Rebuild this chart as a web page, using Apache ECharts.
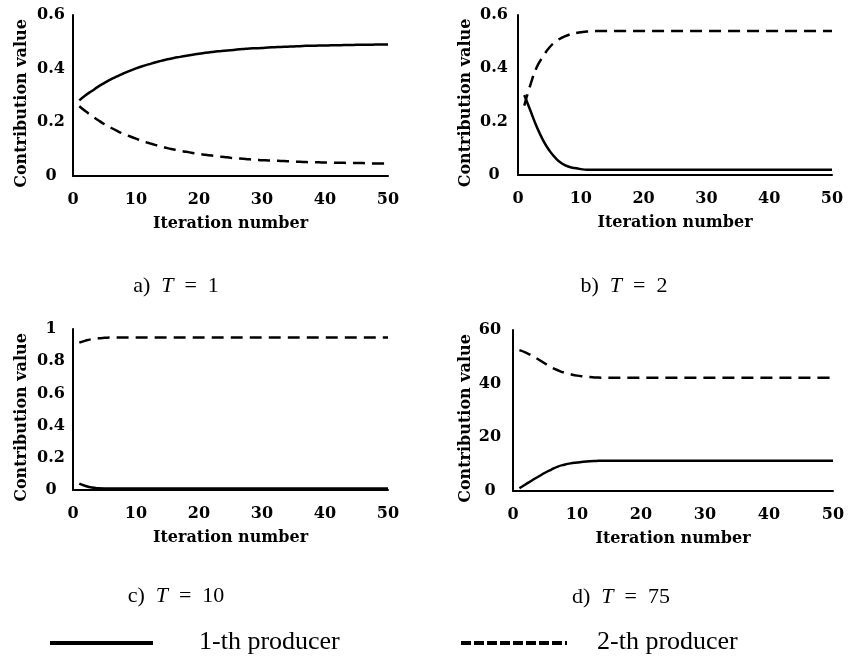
<!DOCTYPE html>
<html>
<head>
<meta charset="utf-8">
<script src="https://cdn.jsdelivr.net/npm/echarts@6/dist/echarts.min.js"></script>
<style>
html,body{margin:0;padding:0;background:#fff;}
#chart{width:848px;height:659px;}
</style>
</head>
<body>
<div id="chart"></div>
<script>
var iterations = [1,2,3,4,5,6,7,8,9,10,11,12,13,14,15,16,17,18,19,20,21,22,23,24,25,26,27,28,29,30,31,32,33,34,35,36,37,38,39,40,41,42,43,44,45,46,47,48,49,50];
var xTicks = [0,10,20,30,40,50];

// a) T = 1
var aProducer1 = [0.282,0.301,0.317,0.333,0.347,0.360,0.371,0.382,0.392,0.401,0.409,0.416,0.423,0.429,0.435,0.440,0.444,0.448,0.452,0.456,0.459,0.462,0.465,0.467,0.469,0.471,0.473,0.475,0.476,0.477,0.479,0.480,0.481,0.482,0.483,0.484,0.485,0.485,0.486,0.486,0.487,0.487,0.488,0.488,0.489,0.489,0.489,0.490,0.490,0.490];
var aProducer2 = [0.260,0.241,0.224,0.208,0.193,0.180,0.168,0.157,0.148,0.139,0.130,0.123,0.116,0.110,0.104,0.099,0.094,0.090,0.086,0.082,0.079,0.076,0.073,0.071,0.068,0.066,0.064,0.062,0.061,0.059,0.058,0.057,0.056,0.055,0.054,0.053,0.052,0.051,0.051,0.050,0.050,0.049,0.049,0.048,0.048,0.048,0.047,0.047,0.047,0.047];
// b) T = 2
var bProducer1 = [0.300,0.240,0.180,0.130,0.092,0.063,0.043,0.032,0.026,0.022,0.020,0.020,0.020,0.020,0.020,0.020,0.020,0.020,0.020,0.020,0.020,0.020,0.020,0.020,0.020,0.020,0.020,0.020,0.020,0.020,0.020,0.020,0.020,0.020,0.020,0.020,0.020,0.020,0.020,0.020,0.020,0.020,0.020,0.020,0.020,0.020,0.020,0.020,0.020,0.020];
var bProducer2 = [0.260,0.340,0.405,0.445,0.478,0.500,0.515,0.525,0.531,0.535,0.538,0.539,0.540,0.540,0.540,0.540,0.540,0.540,0.540,0.540,0.540,0.540,0.540,0.540,0.540,0.540,0.540,0.540,0.540,0.540,0.540,0.540,0.540,0.540,0.540,0.540,0.540,0.540,0.540,0.540,0.540,0.540,0.540,0.540,0.540,0.540,0.540,0.540,0.540,0.540];
// c) T = 10
var cProducer1 = [0.040,0.025,0.015,0.011,0.010,0.010,0.010,0.010,0.010,0.010,0.010,0.010,0.010,0.010,0.010,0.010,0.010,0.010,0.010,0.010,0.010,0.010,0.010,0.010,0.010,0.010,0.010,0.010,0.010,0.010,0.010,0.010,0.010,0.010,0.010,0.010,0.010,0.010,0.010,0.010,0.010,0.010,0.010,0.010,0.010,0.010,0.010,0.010,0.010,0.010];
var cProducer2 = [0.915,0.928,0.937,0.942,0.945,0.947,0.947,0.947,0.947,0.947,0.947,0.947,0.947,0.947,0.947,0.947,0.947,0.947,0.947,0.947,0.947,0.947,0.947,0.947,0.947,0.947,0.947,0.947,0.947,0.947,0.947,0.947,0.947,0.947,0.947,0.947,0.947,0.947,0.947,0.947,0.947,0.947,0.947,0.947,0.947,0.947,0.947,0.947,0.947,0.947];
// d) T = 75
var dProducer1 = [1.0,2.5,4.0,5.4,6.8,8.0,9.1,9.8,10.3,10.6,10.9,11.1,11.2,11.3,11.3,11.3,11.3,11.3,11.3,11.3,11.3,11.3,11.3,11.3,11.3,11.3,11.3,11.3,11.3,11.3,11.3,11.3,11.3,11.3,11.3,11.3,11.3,11.3,11.3,11.3,11.3,11.3,11.3,11.3,11.3,11.3,11.3,11.3,11.3,11.3];
var dProducer2 = [52.5,51.6,50.4,49.0,47.5,46.1,45.0,44.1,43.5,43.0,42.7,42.5,42.3,42.2,42.2,42.2,42.2,42.2,42.2,42.2,42.2,42.2,42.2,42.2,42.2,42.2,42.2,42.2,42.2,42.2,42.2,42.2,42.2,42.2,42.2,42.2,42.2,42.2,42.2,42.2,42.2,42.2,42.2,42.2,42.2,42.2,42.2,42.2,42.2,42.2];

var yMaxes = [0.6, 0.6, 1, 60];
var yIntervals = [0.2, 0.2, 0.2, 20];
var captions = [['a)', '1'], ['b)', '2'], ['c)', '10'], ['d)', '75']];
var seriesNames = ['1-th producer', '2-th producer'];
var xAxisTitle = 'Iteration number';
var yAxisTitle = 'Contribution value';

var panels = [
  {p1: aProducer1, p2: aProducer2},
  {p1: bProducer1, p2: bProducer2},
  {p1: cProducer1, p2: cProducer2},
  {p1: dProducer1, p2: dProducer2}
];

var grids = [
  {left: 73, top: 15, width: 315, height: 161},
  {left: 518, top: 15, width: 314, height: 160},
  {left: 73, top: 329, width: 315, height: 161},
  {left: 513, top: 330, width: 320, height: 161}
];
var yNameGaps = [43, 44, 43, 39];
var yLabelMargins = [22, 24, 22, 23];
var captionPos = [[176, 286], [624, 286], [176, 596], [621, 597]];

var boldFont = 'DejaVu Serif';
var serif = 'Liberation Serif';

function pairs(vals) {
  return iterations.map(function (it, i) { return [it, vals[i]]; });
}

var xAxes = [], yAxes = [], series = [], graphics = [];
grids.forEach(function (g, k) {
  xAxes.push({
    type: 'value', gridIndex: k, min: xTicks[0], max: xTicks[xTicks.length - 1],
    interval: xTicks[1] - xTicks[0],
    name: xAxisTitle, nameLocation: 'middle', nameGap: 40,
    nameTextStyle: {fontFamily: boldFont, fontWeight: 'bold', fontSize: 16, color: '#000'},
    axisLine: {show: true, lineStyle: {color: '#000', width: 2}},
    axisTick: {show: false},
    splitLine: {show: false},
    axisLabel: {fontFamily: boldFont, fontWeight: 'bold', fontSize: 16, color: '#000', margin: 16}
  });
  yAxes.push({
    type: 'value', gridIndex: k, min: 0, max: yMaxes[k], interval: yIntervals[k],
    name: yAxisTitle, nameLocation: 'middle', nameRotate: 90, nameGap: yNameGaps[k],
    nameTextStyle: {fontFamily: boldFont, fontWeight: 'bold', fontSize: 16, color: '#000', padding: [0, 16, 0, 0]},
    axisLine: {show: true, lineStyle: {color: '#000', width: 2}},
    axisTick: {show: false},
    splitLine: {show: false},
    axisLabel: {fontFamily: boldFont, fontWeight: 'bold', fontSize: 16, color: '#000', margin: yLabelMargins[k], align: 'center'}
  });
  series.push({
    name: seriesNames[0], type: 'line', xAxisIndex: k, yAxisIndex: k,
    data: pairs(panels[k].p1), showSymbol: false, symbol: 'none', smooth: true,
    lineStyle: {color: '#000', width: 2.5}
  });
  series.push({
    name: seriesNames[1], type: 'line', xAxisIndex: k, yAxisIndex: k,
    data: pairs(panels[k].p2), showSymbol: false, symbol: 'none', smooth: true,
    lineStyle: {color: '#000', width: 2.5, type: [12, 7]}
  });
  graphics.push({
    type: 'text', x: captionPos[k][0], y: captionPos[k][1],
    style: {
      text: '{n|' + captions[k][0] + '\u2002}{i|T}{n|\u2002=\u2002' + captions[k][1] + '}',
      align: 'center', verticalAlign: 'middle',
      rich: {
        n: {fontFamily: serif, fontSize: 22, fill: '#000'},
        i: {fontFamily: serif, fontSize: 22, fontStyle: 'italic', fill: '#000'}
      }
    }
  });
});

// legend
graphics.push({type: 'line', shape: {x1: 50, y1: 643, x2: 153, y2: 643}, style: {stroke: '#000', lineWidth: 4}});
graphics.push({type: 'text', x: 199, y: 642, style: {text: seriesNames[0], fontFamily: serif, fontSize: 26, fill: '#000', align: 'left', verticalAlign: 'middle'}});
graphics.push({type: 'line', shape: {x1: 461, y1: 643, x2: 567, y2: 643}, style: {stroke: '#000', lineWidth: 4, lineDash: [10, 3]}});
graphics.push({type: 'text', x: 597, y: 642, style: {text: seriesNames[1], fontFamily: serif, fontSize: 26, fill: '#000', align: 'left', verticalAlign: 'middle'}});

var chart = echarts.init(document.getElementById('chart'), null, {renderer: 'canvas'});
chart.setOption({
  animation: false,
  backgroundColor: '#fff',
  grid: grids,
  xAxis: xAxes,
  yAxis: yAxes,
  series: series,
  graphic: graphics
});
</script>
</body>
</html>
